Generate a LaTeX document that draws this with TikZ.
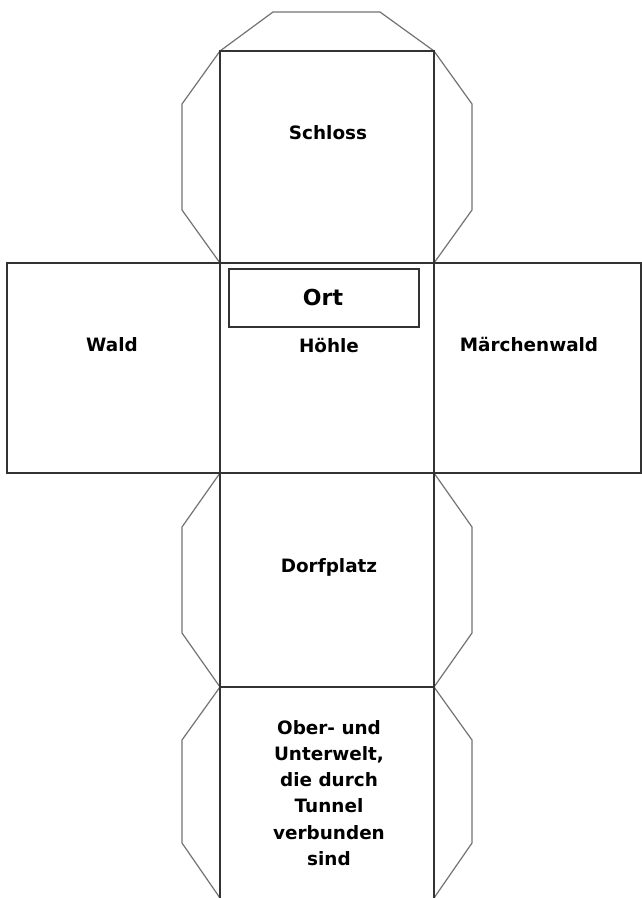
\documentclass[tikz,border=0pt]{standalone}
\usepackage{fontspec}
\setmainfont{DejaVu Sans}
\newfontfamily\ortfont{DejaVu Sans}
\begin{document}
\begin{tikzpicture}[x=1pt,y=-1pt,
  face/.style={draw=black!80,line width=1.4pt},
  flap/.style={draw=black!55,line width=1.2pt,line join=round},
  lbl/.style={font=\fontsize{18.4}{26.2}\selectfont\bfseries,align=center,inner sep=0pt}]
\useasboundingbox (0,0) rectangle (642,898);
\fill[white] (0,0) rectangle (642,898);
% flaps
\draw[flap] (220,51) -- (273,12) -- (380,12) -- (434,51);
\draw[flap] (220,51) -- (182,104) -- (182,210) -- (220,263);
\draw[flap] (434,51) -- (472,104) -- (472,210) -- (434,263);
\draw[flap] (220,473) -- (182,527) -- (182,633) -- (220,687);
\draw[flap] (434,473) -- (472,527) -- (472,633) -- (434,687);
\draw[flap] (220,687) -- (182,740) -- (182,843) -- (220,898);
\draw[flap] (434,687) -- (472,740) -- (472,843) -- (434,898);
% faces
\draw[face] (220,51) rectangle (434,263);
\draw[face] (7,263) rectangle (641,473);
\draw[face] (220,263) -- (220,473);
\draw[face] (434,263) -- (434,473);
\draw[face] (220,473) rectangle (434,687);
\draw[face] (220,687) -- (434,687);
\draw[face] (220,687) -- (220,898);
\draw[face] (434,687) -- (434,898);
% Ort box
\draw[face] (229,269) rectangle (419,327);
\node[inner sep=0pt,font=\ortfont\fontsize{22}{24}\selectfont\bfseries] (ort) at (323,297) {Ort};
% labels
\node[lbl] (schloss) at (328,133) {Schloss};
\node[lbl] (wald) at (112,345) {Wald};
\node[lbl] (hoehle) at (329,346) {Höhle};
\node[lbl] (maerchen) at (529,345) {Märchenwald};
\node[lbl] (dorf) at (329,567) {Dorfplatz};
\node[lbl] (ober) at (329,793) {Ober- und\\Unterwelt,\\die durch\\Tunnel\\verbunden\\sind};
\end{tikzpicture}
\end{document}
